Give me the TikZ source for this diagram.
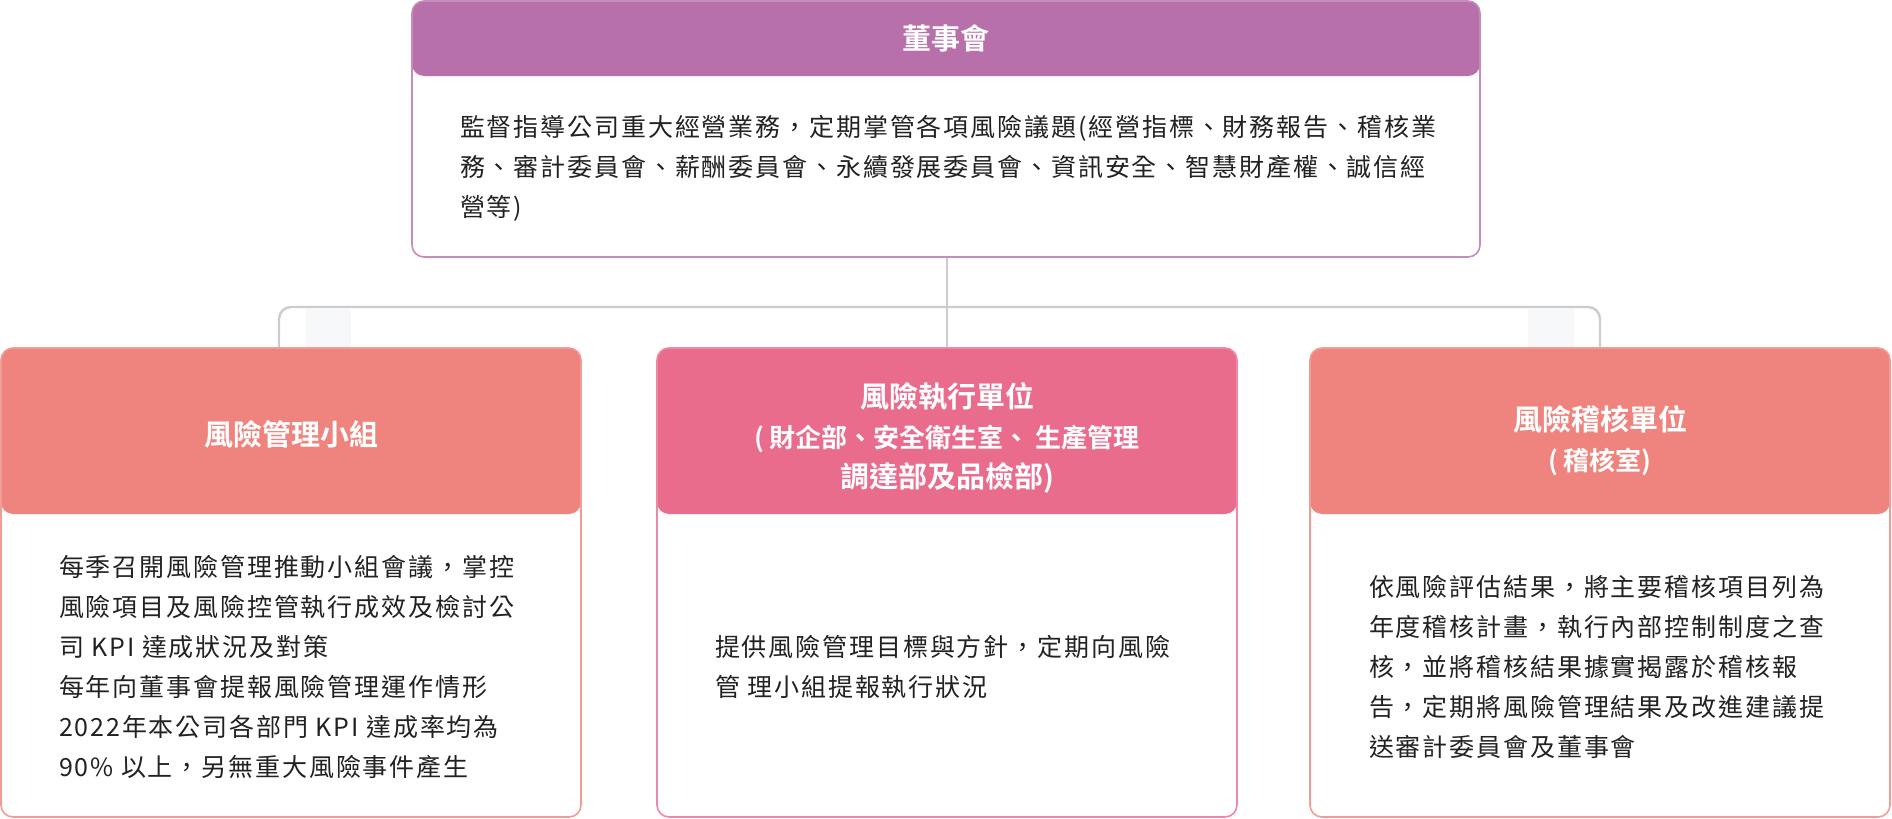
\documentclass[tikz,border=0pt]{standalone}
\usepackage{fontspec}
\setmainfont{Noto Sans CJK TC}
\newfontfamily\cjk[LetterSpace=7.5]{Noto Sans CJK TC}
\newfontfamily\cjkb{Noto Sans CJK TC Bold}
\usepackage{tikz}
\usetikzlibrary{positioning}
\tikzset{>=latex}

\definecolor{boardpurple}{HTML}{B870AA}
\definecolor{teamcoral}{HTML}{EE847D}
\definecolor{execpink}{HTML}{E96C8D}
\definecolor{linkgray}{HTML}{CCCCCC}
\definecolor{tabgray}{HTML}{F6F8FA}
\definecolor{bodytext}{HTML}{222222}
\newcommand\subhd{\fontsize{13}{20}\selectfont}

\tikzset{
  unit/.style 2 args={draw=#1!80, line width=0.8pt, rounded corners=6pt, fill=white,
    minimum width=290pt, minimum height=234.5pt, inner sep=0pt,
    path picture={\fill[#1] (path picture bounding box.north west) rectangle ([yshift=-#2]path picture bounding box.north east);}},
  head/.style={text=white, font=\cjkb\fontsize{14.5}{20}\selectfont, align=center},
  body/.style={text=bodytext, font=\cjk\fontsize{12.5}{20}\selectfont, align=left, anchor=west},
  link/.style={draw=linkgray, line width=1.2pt, rounded corners=6pt},
}

\begin{document}
\begin{tikzpicture}[x=0.5pt,y=-0.5pt]
    \useasboundingbox (0,0) rectangle (1892,819);
    % board
    \node[unit={boardpurple}{37.5pt}, minimum width=534pt, minimum height=128pt] (board) at (946,129) {};
    \node[head] (boardhd) at (946,38) {董事會};
    \node[body] (boardtx) at (453,168) {監督指導公司重大經營業務，定期掌管各項風險議題(經營指標、財務報告、稽核業\\務、審計委員會、薪酬委員會、永續發展委員會、資訊安全、智慧財產權、誠信經\\營等)};
    \fill[tabgray] (306,309) rectangle (351,348);
    \fill[tabgray] (1528,309) rectangle (1574,348);
    % three units
    \node[unit={teamcoral}{83pt}] (team) at (291,582.5) {};
    \node[unit={execpink}{83pt}] (exec) at (947,582.5) {};
    \node[unit={teamcoral}{83pt}] (audit) at (1600,582.5) {};
    \node[head] (teamhd) at (291,434) {風險管理小組};
    \node[head] (exechd) at (947,438) {風險執行單位\\\subhd ( 財企部、安全衛生室、 生產管理\\調達部及品檢部)};
    \node[head] (audithd) at (1600,441) {風險稽核單位\\\subhd ( 稽核室)};
    \node[body] (teamtx) at (52,667) {每季召開風險管理推動小組會議，掌控\\風險項目及風險控管執行成效及檢討公\\司 KPI 達成狀況及對策\\每年向董事會提報風險管理運作情形\\2022年本公司各部門 KPI 達成率均為\\90\% 以上，另無重大風險事件產生};
    \node[body] (exectx) at (708,667) {提供風險管理目標與方針，定期向風險\\管 理小組提報執行狀況};
    \node[body] (audittx) at (1362,667) {依風險評估結果，將主要稽核項目列為\\年度稽核計畫，執行內部控制制度之查\\核，並將稽核結果據實揭露於稽核報\\告，定期將風險管理結果及改進建議提\\送審計委員會及董事會};
    % links
    \coordinate (fork) at (947,307);
    \draw[link] (board.south -| exec.north) -- (exec.north);
    \draw[link] (fork) -| ([xshift=-6pt]team.north);
    \draw[link] (fork) -| (audit.north);
\end{tikzpicture}
\end{document}
